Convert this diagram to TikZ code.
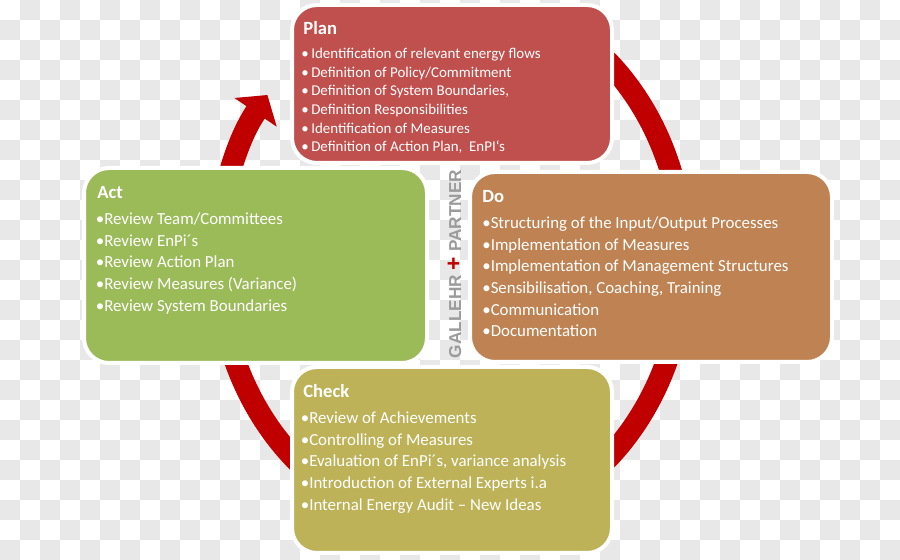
\documentclass[tikz,border=0pt]{standalone}
\usepackage{fontspec}
\setmainfont{Carlito}
\newfontfamily\logofont{Liberation Sans}
\usepackage{xcolor}
\usetikzlibrary{positioning,arrows.meta}

\definecolor{planred}{RGB}{192,80,77}
\definecolor{actgreen}{RGB}{155,187,89}
\definecolor{dobrown}{RGB}{191,131,83}
\definecolor{checkolive}{RGB}{189,178,88}
\definecolor{ringred}{RGB}{192,0,0}
\definecolor{checkergray}{RGB}{232,232,232}
\definecolor{logogray}{RGB}{155,155,155}

\begin{document}
\begin{tikzpicture}[
    every node/.style={text=white},
    phase/.style={draw=white, line width=0.08cm, rounded corners=0.5cm, inner sep=0pt},
    title/.style={font=\fontsize{10.6}{12.7}\selectfont\bfseries, inner sep=0pt},
    items/.style={font=\fontsize{9.6}{12.3}\selectfont, align=left, inner sep=0pt},
    ring/.style={draw=ringred, line width=0.44cm, -{Triangle[width=1cm,length=0.42cm]}},
]
\useasboundingbox (0,0) rectangle (18,11.2);

% Background
\foreach \j in {0,...,27}{
  \pgfmathsetmacro{\xoff}{0.4*mod(\j+1,2)}
  \foreach \k in {0,...,22}{
    \fill[fill=checkergray] (0.8*\k+\xoff,11.2-0.4*\j) rectangle +(0.4,-0.4);
  }
}

% Cycle ring
\coordinate (ringc) at (9.02,6.0);
\draw[ring] (ringc) ++(60:4.66cm and 5.36cm)
    arc[start angle=60, end angle=-218, x radius=4.66cm, y radius=5.36cm];

\node[phase, fill=planred, minimum width=6.4cm, minimum height=3.16cm] (plan) at (9.04,9.52) {};
\node[phase, fill=actgreen, minimum width=6.86cm, minimum height=3.9cm] (act) at (5.11,5.89) {};
\node[phase, fill=dobrown, minimum width=7.24cm, minimum height=3.8cm] (do) at (13.02,5.86) {};
\node[phase, fill=checkolive, minimum width=6.4cm, minimum height=3.72cm] (check) at (9.04,2.0) {};

\node[title, below right=0.36cm and 0.26cm of plan.north west] (plantitle) {Plan};
\node[items, font=\fontsize{8.5}{10.6}\selectfont, below right=0.90cm and 0.22cm of plan.north west] (planlist)
    {•\,Identification of relevant energy flows\\ •\,Definition of Policy/Commitment\\
     •\,Definition of System Boundaries,\\ •\,Definition Responsibilities\\
     •\,Identification of Measures\\ •\,Definition of Action Plan,~ EnPI‘s};

\node[title, below right=0.40cm and 0.30cm of act.north west] (acttitle) {Act};
\node[items, below right=0.93cm and 0.27cm of act.north west] (actlist)
    {•Review Team/Committees\\ •Review EnPi´s\\ •Review Action Plan\\
     •Review Measures (Variance)\\ •Review System Boundaries};

\node[title, below right=0.40cm and 0.28cm of do.north west] (dotitle) {Do};
\node[items, below right=0.93cm and 0.28cm of do.north west] (dolist)
    {•Structuring of the Input/Output Processes\\ •Implementation of Measures\\
     •Implementation of Management Structures\\ •Sensibilisation, Coaching, Training\\
     •Communication\\ •Documentation};

\node[title, below right=0.39cm and 0.26cm of check.north west] (checktitle) {Check};
\node[items, below right=0.93cm and 0.21cm of check.north west] (checklist)
    {•Review of Achievements\\ •Controlling of Measures\\
     •Evaluation of EnPi´s, variance analysis\\ •Introduction of External Experts i.a\\
     •Internal Energy Audit – New Ideas};

% Logo
\node[text=logogray, rotate=90, inner sep=0pt, font=\logofont\bfseries\fontsize{9.8}{11}\selectfont]
    (logo) at (9.09,5.92) {GALLEHR {\color{ringred}\fontsize{13}{13}\selectfont+} PARTNER};

\end{tikzpicture}
\end{document}
